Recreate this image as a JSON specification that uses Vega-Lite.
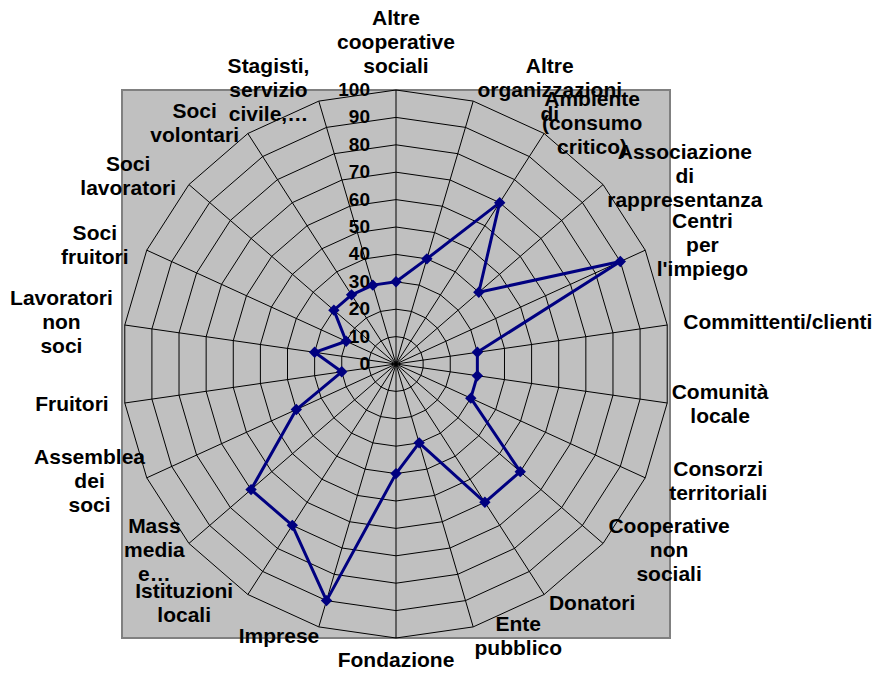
{
  "$schema": "https://vega.github.io/schema/vega-lite/v6.json",
  "width": 548,
  "height": 548,
  "autosize": {"type": "none"},
  "padding": {"left": 122, "top": 90, "right": 202, "bottom": 35},
  "background": "white",
  "config": {
    "view": {"fill": "#c0c0c0", "stroke": "#808080", "strokeWidth": 2},
    "text": {"font": "Liberation Sans", "fontWeight": "bold"}
  },
  "datasets": {
    "cats": [
      {"i": 0, "label": "Altre\ncooperative\nsociali", "value": 30},
      {"i": 1, "label": "Altre\norganizzazioni\ndi", "value": 40},
      {"i": 2, "label": "Ambiente\n(consumo\ncritico)", "value": 70},
      {"i": 3, "label": "Associazione\ndi\nrappresentanza", "value": 40},
      {"i": 4, "label": "Centri\nper\nl'impiego", "value": 90},
      {"i": 5, "label": "Committenti/clienti", "value": 30},
      {"i": 6, "label": "Comunità\nlocale", "value": 30},
      {"i": 7, "label": "Consorzi\nterritoriali", "value": 30},
      {"i": 8, "label": "Cooperative\nnon\nsociali", "value": 60},
      {"i": 9, "label": "Donatori", "value": 60},
      {"i": 10, "label": "Ente\npubblico", "value": 30},
      {"i": 11, "label": "Fondazione", "value": 40},
      {"i": 12, "label": "Imprese", "value": 90},
      {"i": 13, "label": "Istituzioni\nlocali", "value": 70},
      {"i": 14, "label": "Mass\nmedia\ne…", "value": 70},
      {"i": 15, "label": "Assemblea\ndei\nsoci", "value": 40},
      {"i": 16, "label": "Fruitori", "value": 20},
      {"i": 17, "label": "Lavoratori\nnon\nsoci", "value": 30},
      {"i": 18, "label": "Soci\nfruitori", "value": 20},
      {"i": 19, "label": "Soci\nlavoratori", "value": 30},
      {"i": 20, "label": "Soci\nvolontari", "value": 30},
      {"i": 21, "label": "Stagisti,\nservizio\ncivile,…", "value": 30}
    ],
    "levels": [
      {"level": 0}, {"level": 10}, {"level": 20}, {"level": 30}, {"level": 40}, {"level": 50},
      {"level": 60}, {"level": 70}, {"level": 80}, {"level": 90}, {"level": 100}
    ],
    "grid": [
      {"ring": [10, 20, 30, 40, 50, 60, 70, 80, 90, 100],
       "i": [0, 1, 2, 3, 4, 5, 6, 7, 8, 9, 10, 11, 12, 13, 14, 15, 16, 17, 18, 19, 20, 21]}
    ]
  },
  "layer": [
    {
      "data": {"name": "grid"},
      "transform": [
        {"flatten": ["ring"]},
        {"flatten": ["i"]},
        {"calculate": "datum.i * 2 * PI / 22", "as": "t1"},
        {"calculate": "(datum.i + 1) * 2 * PI / 22", "as": "t2"},
        {"calculate": "datum.ring * sin(datum.t1)", "as": "gx1"},
        {"calculate": "datum.ring * cos(datum.t1)", "as": "gy1"},
        {"calculate": "datum.ring * sin(datum.t2)", "as": "gx2"},
        {"calculate": "datum.ring * cos(datum.t2)", "as": "gy2"}
      ],
      "mark": {"type": "rule", "color": "black", "strokeWidth": 1},
      "encoding": {
        "x": {"field": "gx1", "type": "quantitative", "scale": {"domain": [-100, 100], "nice": false, "zero": false}, "axis": null},
        "y": {"field": "gy1", "type": "quantitative", "scale": {"domain": [-100, 100], "nice": false, "zero": false}, "axis": null},
        "x2": {"field": "gx2"},
        "y2": {"field": "gy2"}
      }
    },
    {
      "data": {"name": "cats"},
      "transform": [
        {"calculate": "datum.i * 2 * PI / 22", "as": "t"},
        {"calculate": "0", "as": "ox"},
        {"calculate": "100 * sin(datum.t)", "as": "sx"},
        {"calculate": "100 * cos(datum.t)", "as": "sy"}
      ],
      "mark": {"type": "rule", "color": "black", "strokeWidth": 1},
      "encoding": {
        "x": {"field": "ox", "type": "quantitative"},
        "y": {"field": "ox", "type": "quantitative"},
        "x2": {"field": "sx"},
        "y2": {"field": "sy"}
      }
    },
    {
      "data": {"name": "levels"},
      "transform": [{"calculate": "0", "as": "ox"}],
      "mark": {"type": "text", "align": "right", "baseline": "middle", "dx": -26, "fontSize": 19, "fontWeight": "bold", "color": "black"},
      "encoding": {
        "x": {"field": "ox", "type": "quantitative"},
        "y": {"field": "level", "type": "quantitative"},
        "text": {"field": "level", "type": "quantitative"}
      }
    },
    {
      "data": {"name": "cats"},
      "transform": [
        {"window": [{"op": "lead", "field": "value", "as": "lv"}, {"op": "first_value", "field": "value", "as": "fv"}], "sort": [{"field": "i"}], "frame": [null, null]},
        {"calculate": "isValid(datum.lv) ? datum.lv : datum.fv", "as": "nv"},
        {"calculate": "datum.i * 2 * PI / 22", "as": "t1"},
        {"calculate": "(datum.i + 1) * 2 * PI / 22", "as": "t2"},
        {"calculate": "datum.value * sin(datum.t1)", "as": "px1"},
        {"calculate": "datum.value * cos(datum.t1)", "as": "py1"},
        {"calculate": "datum.nv * sin(datum.t2)", "as": "px2"},
        {"calculate": "datum.nv * cos(datum.t2)", "as": "py2"}
      ],
      "mark": {"type": "rule", "color": "#000080", "strokeWidth": 3, "strokeCap": "round"},
      "encoding": {
        "x": {"field": "px1", "type": "quantitative"},
        "y": {"field": "py1", "type": "quantitative"},
        "x2": {"field": "px2"},
        "y2": {"field": "py2"}
      }
    },
    {
      "data": {"name": "cats"},
      "transform": [
        {"calculate": "datum.i * 2 * PI / 22", "as": "t"},
        {"calculate": "datum.value * sin(datum.t)", "as": "px"},
        {"calculate": "datum.value * cos(datum.t)", "as": "py"}
      ],
      "mark": {"type": "point", "shape": "diamond", "filled": true, "size": 130, "color": "#000080", "opacity": 1},
      "encoding": {
        "x": {"field": "px", "type": "quantitative"},
        "y": {"field": "py", "type": "quantitative"}
      }
    },
    {
      "data": {"name": "cats"},
      "transform": [
        {"calculate": "datum.i * 2 * PI / 22", "as": "t"},
        {"calculate": "split(datum.label, '\\n')", "as": "lines"},
        {"calculate": "length(datum.lines)", "as": "nl"},
        {"calculate": "max(length(datum.lines[0]), length(datum.lines[1] || ''), length(datum.lines[2] || ''))", "as": "maxlen"},
        {"calculate": "abs(sin(datum.t)) < 0.01 ? 0 : (sin(datum.t) > 0 ? 1 : -1)", "as": "side"},
        {"calculate": "104 * sin(datum.t) + datum.side * datum.maxlen * 5.25 / 2.74", "as": "lx"},
        {"calculate": "104 * cos(datum.t) + (datum.side == 0 ? (cos(datum.t) > 0 ? 1 : -1) * datum.nl * 12 / 2.74 : 0) + (datum.nl - 1) * 12 / 2.74", "as": "ly"}
      ],
      "mark": {"type": "text", "align": "center", "baseline": "middle", "lineBreak": "\n", "lineHeight": 24, "fontSize": 21, "color": "black"},
      "encoding": {
        "x": {"field": "lx", "type": "quantitative"},
        "y": {"field": "ly", "type": "quantitative"},
        "text": {"field": "label", "type": "nominal"}
      }
    }
  ]
}
